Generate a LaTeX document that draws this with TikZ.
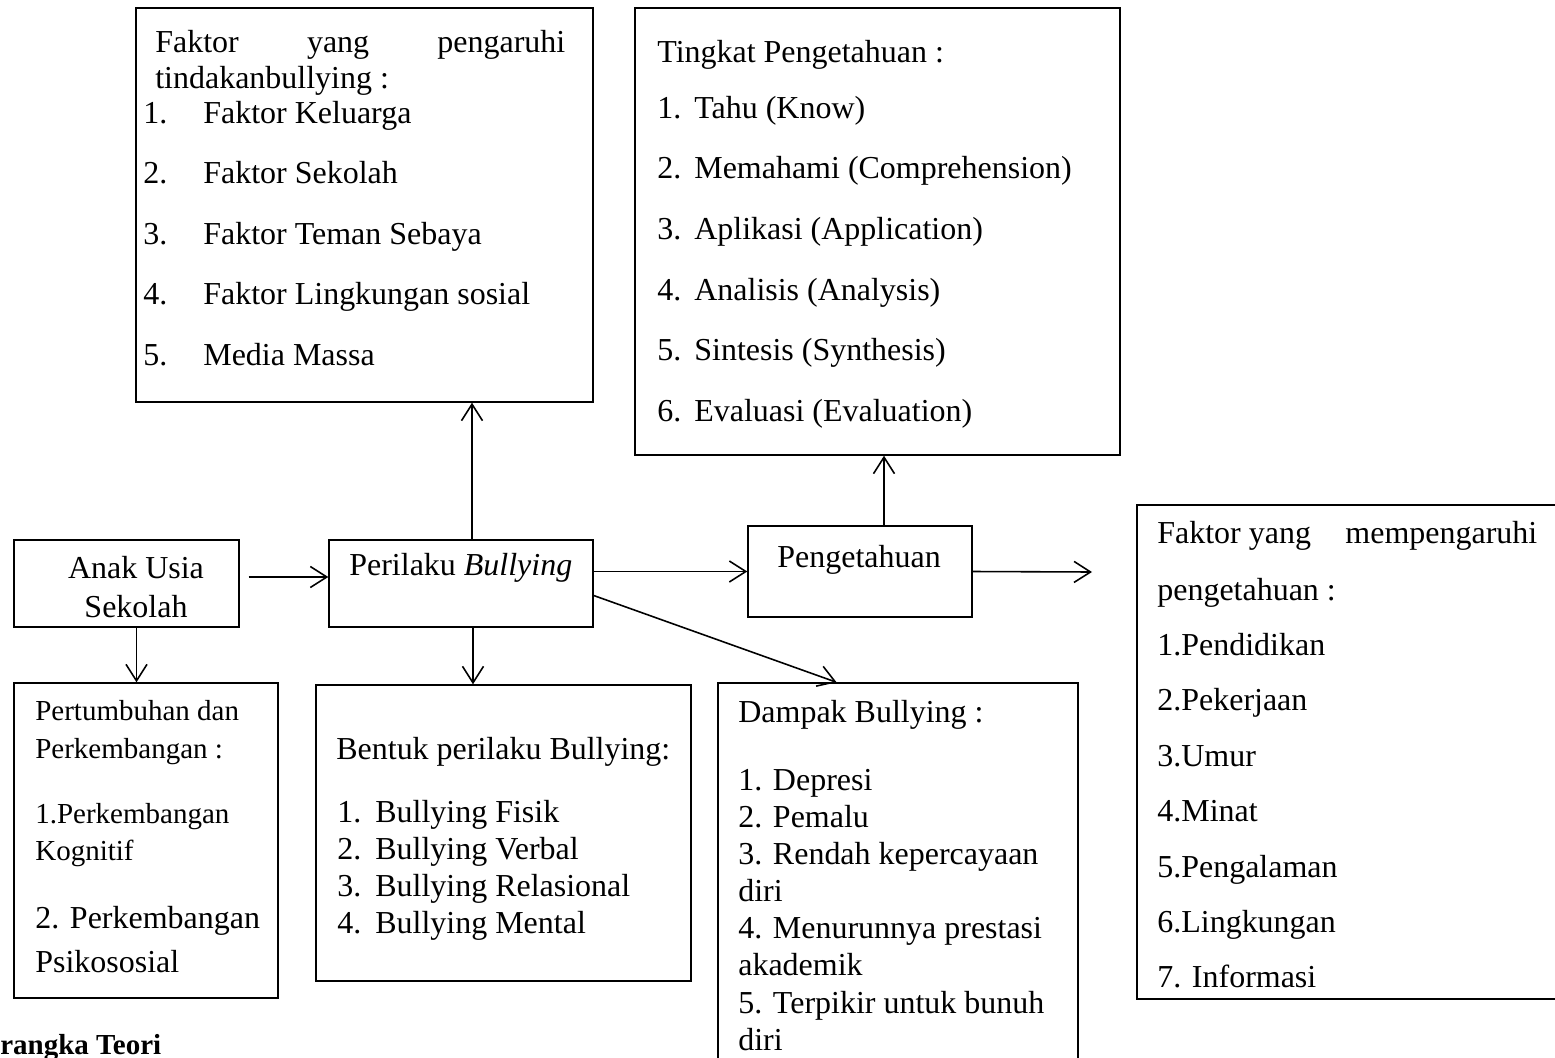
\documentclass[tikz,border=0pt]{standalone}
\usepackage{fontspec}
\setmainfont{Liberation Serif}
\usetikzlibrary{arrows.meta,fit,calc}

\tikzset{
  box/.style={draw, line width=0.8pt, inner sep=0pt},
  txt/.style={anchor=base west, inner sep=0pt, font=\fontsize{18.2}{21}\selectfont},
  smalltxt/.style={txt, font=\fontsize{16.5}{19}\selectfont},
  arr/.style={-{Straight Barb[length=3.3mm,width=4.2mm]}, line width=0.9pt},
}

\begin{document}
\begin{tikzpicture}[x=0.02cm, y=-0.02cm]
      \clip (0,0) rectangle (1555,1058);
      % boxes
      \node[box, fit={(136,8) (593,402)}] (faktor) {};
      \node[box, fit={(635,8) (1120,455)}] (tingkat) {};
      \node[box, fit={(14,540) (239,627)}] (anak) {};
      \node[box, fit={(329,540) (593,627)}] (perilaku) {};
      \node[box, fit={(748,526) (972,617)}] (penget) {};
      \node[box, fit={(1137,505) (1565,999)}] (faktorpeng) {};
      \node[box, fit={(14,683) (278,998)}] (tumbuh) {};
      \node[box, fit={(316,685) (691,981)}] (bentuk) {};
      \node[box, fit={(718,683) (1078,1070)}] (dampak) {};

      % faktor bullying
      \node[txt] (fk0) at (155,52) {\makebox[8.2cm][l]{Faktor\hfill yang\hfill pengaruhi}};
      \node[txt] (fk00) at (155,88) {tindakanbullying :};
      \foreach \y/\t [count=\i] in {123/Faktor Keluarga, 183/Faktor Sekolah,
          244/Faktor Teman Sebaya, 304/Faktor Lingkungan sosial, 365/Media Massa} {
        \node[txt] (fkn\i) at (143,\y) {\i.};
        \node[txt] (fkt\i) at (203,\y) {\t};
      }

      % tingkat pengetahuan
      \node[txt] (tp0) at (657,62) {Tingkat Pengetahuan :};
      \foreach \y/\t [count=\i] in {118/Tahu (Know), 178/Memahami (Comprehension),
          239/Aplikasi (Application), 300/Analisis (Analysis),
          360/Sintesis (Synthesis), 421/Evaluasi (Evaluation)} {
        \node[txt] (tpn\i) at (657,\y) {\i.};
        \node[txt] (tpt\i) at (694,\y) {\t};
      }

      % middle row
      \node[txt, anchor=base] (an1) at (136,578) {Anak Usia};
      \node[txt, anchor=base] (an2) at (136,617) {Sekolah};
      \node[txt] (pb) at (349,575) {Perilaku \textit{Bullying}};
      \node[txt] (pg) at (777,567) {Pengetahuan};

      % faktor pengetahuan
      \node[txt] (fp0) at (1157,543) {\makebox[7.6cm][l]{Faktor yang\hfill mempengaruhi}};
      \foreach \y/\t [count=\i] in {600/pengetahuan :, 655/1.Pendidikan, 710/2.Pekerjaan,
          766/3.Umur, 821/4.Minat, 877/5.Pengalaman, 932/6.Lingkungan, 987/7. Informasi} {
        \node[txt] (fp\i) at (1157,\y) {\t};
      }

      % pertumbuhan
      \foreach \y/\t [count=\i] in {720/Pertumbuhan dan, 758/Perkembangan :,
          823/1.Perkembangan, 860/Kognitif} {
        \node[smalltxt] (pt\i) at (35,\y) {\t};
      }
      \node[txt] (pt5) at (35,928) {2. Perkembangan};
      \node[txt] (pt6) at (35,972) {Psikososial};

      % bentuk
      \node[txt] (bt0) at (336,759) {Bentuk perilaku Bullying:};
      \foreach \y/\t [count=\i] in {822/Bullying Fisik, 859/Bullying Verbal,
          896/Bullying Relasional, 933/Bullying Mental} {
        \node[txt] (btn\i) at (337,\y) {\i.};
        \node[txt] (btt\i) at (375,\y) {\t};
      }

      % dampak
      \foreach \y/\t [count=\i] in {722/Dampak Bullying :, 790/1. Depresi, 827/2. Pemalu,
          864/3. Rendah kepercayaan, 901/diri, 938/4. Menurunnya prestasi,
          975/akademik, 1013/5. Terpikir untuk bunuh, 1050/diri} {
        \node[txt] (dp\i) at (738,\y) {\t};
      }

      \node[txt, font=\fontsize{16.5}{19}\selectfont\bfseries] (judul) at (0,1054) {rangka Teori};

      % connectors
      \coordinate (pout) at (1092,572);
      \draw[arr, shorten <=0.18cm] ([yshift=0.13cm]anak.east) -- ([yshift=0.13cm]perilaku.west);
      \draw[arr] ([xshift=0.2cm]anak.south) -- ([xshift=0.2cm]anak.south |- tumbuh.north);
      \draw[arr] ([xshift=0.22cm]perilaku.north) -- ([xshift=0.22cm]perilaku.north |- faktor.south);
      \draw[arr] ([xshift=0.24cm]perilaku.south) -- ([xshift=0.24cm]perilaku.south |- bentuk.north);
      \draw[arr] (perilaku.east |- penget.west) -- (penget.west);
      \draw[arr] ([yshift=-0.24cm]perilaku.east) -- ($(dampak.north west)!0.33!(dampak.north east)$);
      \draw[arr] ([xshift=0.48cm]penget.north) -- ([xshift=0.48cm]penget.north |- tingkat.south);
      \draw[arr] (penget.east) -- (pout);
    \end{tikzpicture}
\end{document}
